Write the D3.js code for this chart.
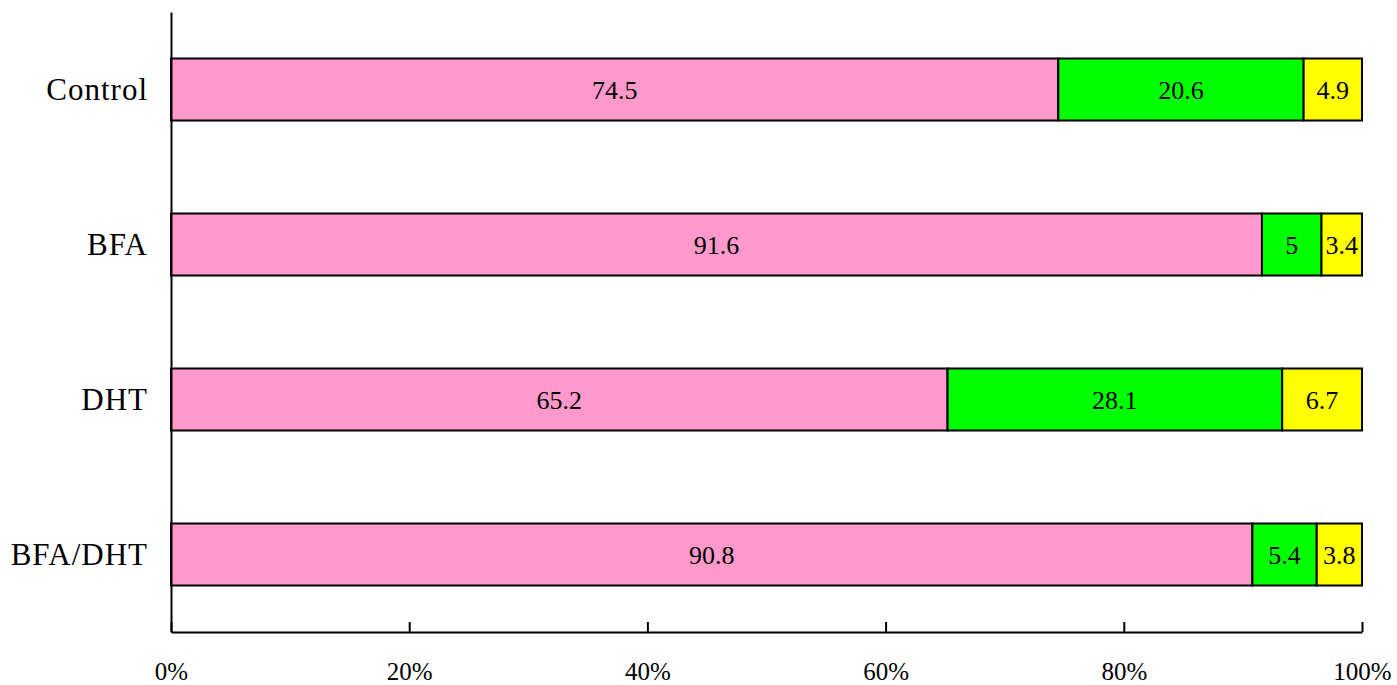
<!DOCTYPE html>
<html>
<head>
<meta charset="utf-8">
<script src="https://cdn.jsdelivr.net/npm/d3@7"></script>
<style>
body{margin:0;background:#fff;}
svg{display:block;}
svg text{font-family:"Liberation Serif","Times New Roman",serif !important;fill:#000;}
</style>
</head>
<body>
<svg id="chart" width="1397" height="685"></svg>
<script>
const categories = ["Control","BFA","DHT","BFA/DHT"];
const seriesNames = ["A","B","C"];
const seriesColors = ["#FF99CC","#00FF00","#FFFF00"];
const valuesA = [74.5, 91.6, 65.2, 90.8];
const valuesB = [20.6, 5, 28.1, 5.4];
const valuesC = [4.9, 3.4, 6.7, 3.8];
const xTicks = [0, 0.2, 0.4, 0.6, 0.8, 1.0];

(function(){
const svg = d3.select("#chart");
const mLeft = 171, mRight = 1362, mTop = 12, mBottom = 632;

const x = d3.scaleLinear().domain([0,1]).range([mLeft,mRight]);
const y = d3.scaleBand().domain(categories).range([mTop,mBottom]).paddingInner(0.6).paddingOuter(0.3);

const rows = categories.map((c,i)=>({cat:c, A:valuesA[i], B:valuesB[i], C:valuesC[i]}));
const stack = d3.stack().keys(seriesNames).offset(d3.stackOffsetExpand);
const stacked = stack(rows);

const g = svg.append("g");
stacked.forEach((layer,li)=>{
  const lg = g.append("g");
  lg.selectAll("rect").data(layer).enter().append("rect")
    .attr("x", d=>x(d[0]))
    .attr("y", d=>y(d.data.cat))
    .attr("width", d=>x(d[1])-x(d[0]))
    .attr("height", y.bandwidth())
    .attr("fill", seriesColors[li])
    .attr("stroke","#000")
    .attr("stroke-width",2);
  lg.selectAll("text").data(layer).enter().append("text")
    .attr("x", d=>(x(d[0])+x(d[1]))/2)
    .attr("y", d=>y(d.data.cat)+y.bandwidth()/2)
    .attr("dy","0.35em")
    .attr("text-anchor","middle")
    .style("font-size","26px")
    .text(d=>d.data[layer.key]);
});

// x axis
const xAxis = d3.axisBottom(x).tickValues(xTicks).tickFormat(d3.format(".0%")).tickSizeInner(-10).tickSizeOuter(0);
const xa = svg.append("g").attr("transform",`translate(0,${mBottom})`).call(xAxis);
xa.attr("font-family",null);
xa.select(".domain").attr("stroke","#000").attr("stroke-width",2);
xa.selectAll(".tick line").attr("stroke","#000").attr("stroke-width",2);
xa.selectAll(".tick text").attr("y",48).attr("dy",null).style("font-size","25px");

// y axis
const yAxis = d3.axisLeft(y).tickSize(0).tickPadding(23);
const ya = svg.append("g").attr("transform",`translate(${mLeft},0)`).call(yAxis);
ya.attr("font-family",null);
ya.select(".domain").attr("stroke","#000").attr("stroke-width",2);
ya.selectAll(".tick text").style("font-size","31px").style("letter-spacing","1px").attr("dy","0.35em");
})();
</script>
</body>
</html>
